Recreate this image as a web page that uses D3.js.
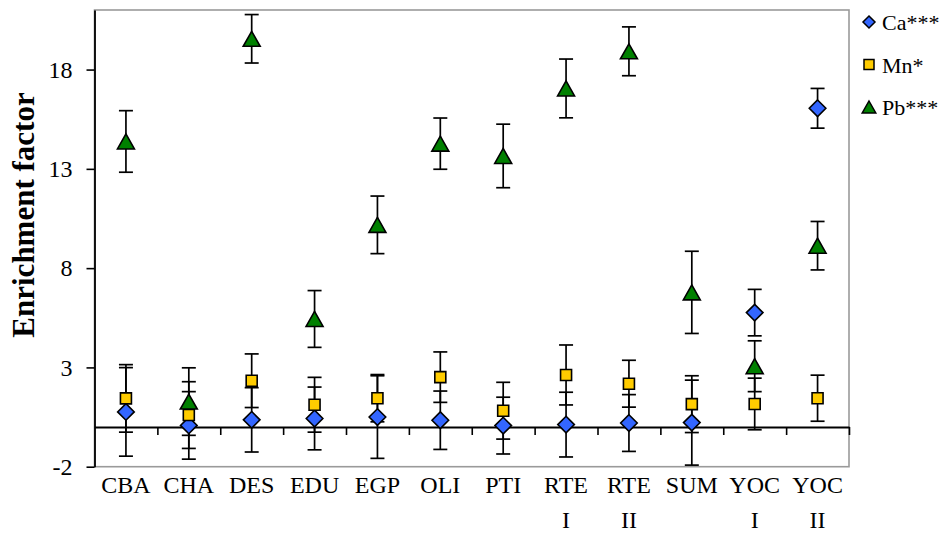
<!DOCTYPE html>
<html>
<head>
<meta charset="utf-8">
<script src="https://cdn.jsdelivr.net/npm/d3@7/dist/d3.min.js"></script>
<style>
body { margin: 0; background: #fff; }
svg { display: block; font-family: "Liberation Serif", "Times New Roman", serif; }
</style>
</head>
<body>
<svg id="chart" width="946" height="540"></svg>
<script>
//------------------- données ----------------------------------------
var categories = ["CBA", "CHA", "DES", "EDU", "EGP", "OLI", "PTI", "RTE I", "RTE II", "SUM", "YOC I", "YOC II"];

var caValues = [0.76, 0.08, 0.36, 0.43, 0.5, 0.34, 0.07, 0.12, 0.2, 0.22, 5.76, 16.05];
var caErr    = [2.23, 1.7, 1.62, 1.58, 2.08, 1.47, 1.43, 1.63, 1.43, 2.14, 1.17, 1.0];

var mnValues = [1.44, 0.6, 2.33, 1.12, 1.45, 2.51, 0.82, 2.62, 2.18, 1.15, 1.16, 1.45];
var mnErr    = [1.7, 1.68, 1.35, 1.38, 1.19, 1.27, 1.43, 1.51, 1.18, 1.43, 1.3, 1.16];

var pbValues = [14.38, 1.28, 19.55, 5.44, 10.18, 14.27, 13.65, 17.05, 18.92, 6.78, 3.06, 9.13];
var pbErr    = [1.55, 1.7, 1.22, 1.43, 1.45, 1.29, 1.6, 1.48, 1.23, 2.07, 1.28, 1.22];

var seriesNames = ["Ca***", "Mn*", "Pb***"];
var yTicks = [-2, 3, 8, 13, 18];

//------------------- mise en page ----------------------------------------
var plotLeft = 94.5, plotRight = 849, plotTop = 10, plotBottom = 466.7;
var svg = d3.select("#chart");

var x = d3.scaleBand().domain(categories).range([plotLeft, plotRight]);
var xIdx = d3.scaleLinear().domain([0, categories.length]).range([plotLeft, plotRight]);
var y = d3.scaleLinear().domain([-2, 21]).range([plotBottom, plotTop]);

// forme des marqueurs
function marker(type, s) {
    if (type == "diamond") {
        return "M0," + (-s) + " L" + s + ",0 L0," + s + " L" + (-s) + ",0 Z";
    }
    if (type == "square") {
        return "M" + (-s) + "," + (-s) + " L" + s + "," + (-s) + " L" + s + "," + s + " L" + (-s) + "," + s + " Z";
    }
    // triangle
    return "M0," + (-s) + " L" + (s * 1.13) + "," + s + " L" + (-s * 1.13) + "," + s + " Z";
}

var series = [
    {name: seriesNames[0], values: caValues, err: caErr, type: "diamond", size: 8.3, leg: 6, color: "#3366FF"},
    {name: seriesNames[1], values: mnValues, err: mnErr, type: "square", size: 5.5, leg: 5, color: "#FFCC00"},
    {name: seriesNames[2], values: pbValues, err: pbErr, type: "triangle", size: 7.5, leg: 6, color: "#008000"}
];

// cadre gris
svg.append("rect")
    .attr("x", plotLeft).attr("y", plotTop)
    .attr("width", plotRight - plotLeft).attr("height", plotBottom - plotTop)
    .attr("fill", "none")
    .attr("stroke", "#9a9a9a")
    .attr("stroke-width", 1.6);

// axe Y
var yAxis = svg.append("g")
    .attr("transform", "translate(" + plotLeft + ",0)")
    .call(d3.axisLeft(y).tickValues(yTicks).tickFormat(function(d) { return String(d); })
        .tickSize(8).tickPadding(14).tickSizeOuter(0));
yAxis.select(".domain").attr("stroke", "#000").attr("stroke-width", 1.8);
yAxis.selectAll(".tick line").attr("stroke", "#000").attr("stroke-width", 1.6);
yAxis.selectAll(".tick text")
    .attr("font-family", "Liberation Serif, serif")
    .attr("font-size", 24)
    .attr("fill", "#000");

// ligne du zéro avec graduations entre catégories
var xAxis = svg.append("g")
    .attr("transform", "translate(0," + y(0) + ")")
    .call(d3.axisBottom(xIdx).tickValues(d3.range(1, categories.length + 1)).tickSize(8).tickFormat("").tickSizeOuter(0));
xAxis.select(".domain").attr("stroke", "#000").attr("stroke-width", 1.8);
xAxis.selectAll(".tick line").attr("stroke", "#000").attr("stroke-width", 1.6);

// étiquettes des catégories (deux lignes)
var lab = svg.append("g").selectAll("text")
    .data(categories)
    .enter().append("text")
    .attr("x", function(d) { return x(d) + x.bandwidth() / 2; })
    .attr("y", 493)
    .attr("text-anchor", "middle")
    .attr("font-size", 24)
    .attr("fill", "#000");
lab.each(function(d) {
    var parts = d.split(" ");
    var t = d3.select(this);
    parts.forEach(function(p, i) {
        t.append("tspan")
            .attr("x", x(d) + x.bandwidth() / 2)
            .attr("dy", i == 0 ? 0 : 35)
            .text(p);
    });
});

// titre de l'axe Y
svg.append("text")
    .attr("transform", "translate(34," + 215 + ") rotate(-90)")
    .attr("text-anchor", "middle")
    .attr("font-size", 31)
    .attr("font-weight", "bold")
    .text("Enrichment factor");

// barres d'erreur
series.forEach(function(s) {
    var g = svg.append("g").attr("stroke", "#000").attr("stroke-width", 1.7);
    categories.forEach(function(c, i) {
        var cx = x(c) + x.bandwidth() / 2;
        var y1 = y(s.values[i] + s.err[i]), y2 = y(s.values[i] - s.err[i]);
        g.append("line").attr("x1", cx).attr("x2", cx).attr("y1", y1).attr("y2", y2);
        g.append("line").attr("x1", cx - 7).attr("x2", cx + 7).attr("y1", y1).attr("y2", y1);
        g.append("line").attr("x1", cx - 7).attr("x2", cx + 7).attr("y1", y2).attr("y2", y2);
    });
});

// marqueurs
series.forEach(function(s) {
    svg.append("g").selectAll("path")
        .data(s.values)
        .enter().append("path")
        .attr("d", marker(s.type, s.size))
        .attr("transform", function(d, i) {
            return "translate(" + (x(categories[i]) + x.bandwidth() / 2) + "," + y(d) + ")";
        })
        .attr("fill", s.color)
        .attr("stroke", "#000")
        .attr("stroke-width", 1.6);
});

// légende
var legend = svg.append("g").selectAll("g")
    .data(series)
    .enter().append("g")
    .attr("transform", function(d, i) { return "translate(869," + (22 + i * 42.5) + ")"; });
legend.append("path")
    .attr("d", function(d) { return marker(d.type, d.leg); })
    .attr("fill", function(d) { return d.color; })
    .attr("stroke", "#000")
    .attr("stroke-width", 1.5);
legend.append("text")
    .attr("x", 13)
    .attr("y", 8)
    .attr("font-size", 22)
    .text(function(d) { return d.name; });
</script>
</body>
</html>
